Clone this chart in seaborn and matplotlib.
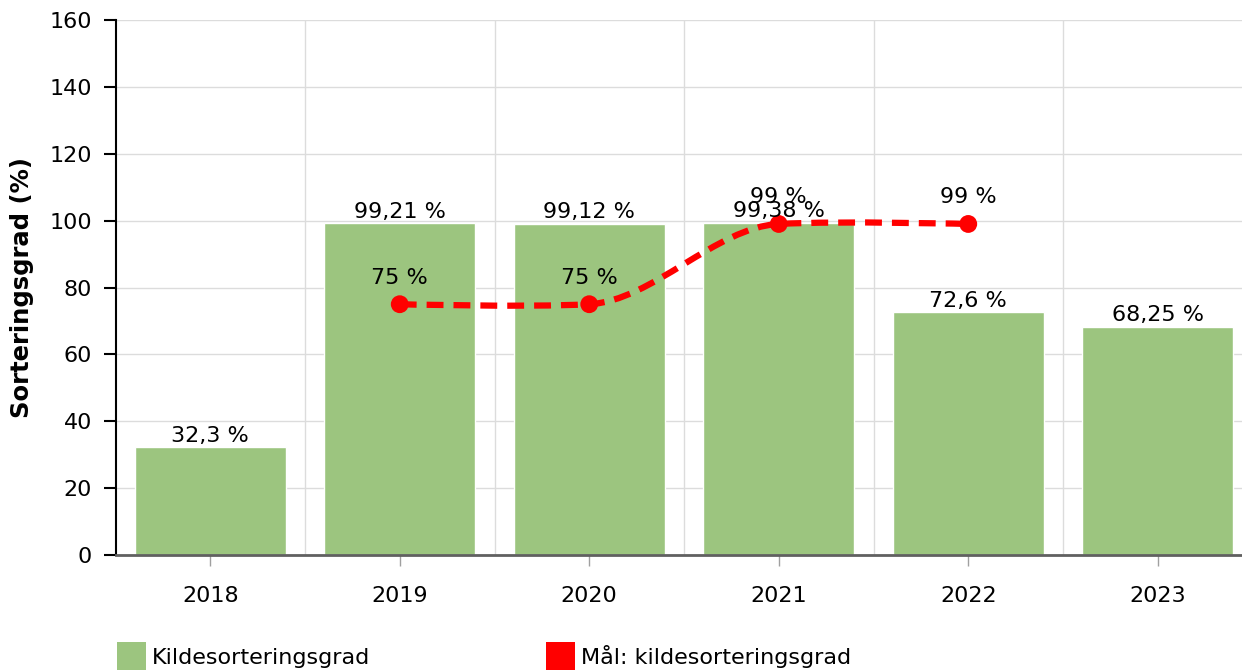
import matplotlib
matplotlib.use("Agg")
import matplotlib.pyplot as plt
from matplotlib.path import Path
from matplotlib.patches import PathPatch, Patch
import seaborn as sns
import pandas as pd

# ---- data ----
years = ["2018", "2019", "2020", "2021", "2022", "2023"]
sort_rate = [32.3, 99.21, 99.12, 99.38, 72.6, 68.25]
sort_labels = ["32,3 %", "99,21 %", "99,12 %", "99,38 %", "72,6 %", "68,25 %"]
target_years = ["2019", "2020", "2021", "2022"]
target_rate = [75, 75, 99, 99]
target_labels = ["75 %", "75 %", "99 %", "99 %"]
y_ticks = [0, 20, 40, 60, 80, 100, 120, 140, 160]
bar_name = "Kildesorteringsgrad"
line_name = "Mål: kildesorteringsgrad"
y_title = "Sorteringsgrad (%)"

BAR_COLOR = "#9CC57F"
LINE_COLOR = "#FF0000"

sns.set_theme(style="white")
plt.rcParams["font.family"] = ["DejaVu Sans"]
FS = 16

fig = plt.figure(figsize=(12.42, 6.70), dpi=100)
# plot area continues slightly past the right edge, as in the reference
ax = fig.add_axes([115.5 / 1242, 1 - 555 / 670, 1137 / 1242, 535 / 670])

df = pd.DataFrame({"year": years, "rate": sort_rate})
sns.barplot(data=df, x="year", y="rate", color=BAR_COLOR, saturation=1,
            width=0.797, ax=ax, zorder=2)
ax.bar_label(ax.containers[0], labels=sort_labels, padding=1,
             fontsize=FS, color="black", zorder=5)

# smooth target line (cubic Bezier through the points)
xs = [years.index(y) for y in target_years]
ys = target_rate
n = len(xs)
slopes = []
for i in range(n):
    if i == 0 or i == n - 1:
        slopes.append(None)
    else:
        slopes.append(0.25 * (ys[i + 1] - ys[i - 1]) / (xs[i + 1] - xs[i - 1]))
verts = [(xs[0], ys[0])]
codes = [Path.MOVETO]
for i in range(n - 1):
    dx = xs[i + 1] - xs[i]
    if slopes[i] is None:
        c1 = (xs[i], ys[i])
    else:
        c1 = (xs[i] + dx / 3, ys[i] + slopes[i] * dx / 3)
    if slopes[i + 1] is None:
        c2 = (xs[i + 1], ys[i + 1])
    else:
        c2 = (xs[i + 1] - dx / 3, ys[i + 1] - slopes[i + 1] * dx / 3)
    verts += [c1, c2, (xs[i + 1], ys[i + 1])]
    codes += [Path.CURVE4] * 3
patch = PathPatch(Path(verts, codes), fill=False, edgecolor=LINE_COLOR,
                  linewidth=4.5, linestyle=(0, (2.7, 1.6)), zorder=3,
                  capstyle="butt")
ax.add_patch(patch)
sns.scatterplot(x=xs, y=ys, color=LINE_COLOR, s=165, edgecolor="none",
                zorder=4, ax=ax)
for x, y, lab in zip(xs, ys, target_labels):
    ax.annotate(lab, (x, y), xytext=(0, 12), textcoords="offset points",
                ha="center", va="bottom", fontsize=FS, color="black", zorder=5)

# axes styling
ax.set_xlim(-0.5, len(years) - 0.5)
ax.set_ylim(0, 160)
ax.set_yticks(y_ticks)
ax.set_yticklabels([str(t) for t in y_ticks], fontsize=FS)
ax.set_xticks(range(len(years)))
ax.set_xticklabels(years, fontsize=FS)
ax.set_xticks([i + 0.5 for i in range(len(years) - 1)], minor=True)
ax.set_xlabel("")
ax.set_ylabel(y_title, fontsize=17.5, fontweight="bold", labelpad=11,
              color="black")
ax.grid(True, axis="y", color="#DCDCDC", linewidth=1, zorder=0)
ax.grid(True, axis="x", which="minor", color="#DCDCDC", linewidth=1, zorder=0)
ax.grid(False, axis="x", which="major")
ax.set_axisbelow(True)
for s in ["top", "right"]:
    ax.spines[s].set_visible(False)
ax.spines["left"].set_color("black")
ax.spines["left"].set_linewidth(1.5)
ax.spines["bottom"].set_color("#606060")
ax.spines["bottom"].set_linewidth(2)
ax.tick_params(axis="y", which="major", left=True, length=9, width=1.5,
               color="black", pad=8, labelcolor="black")
ax.tick_params(axis="x", which="major", bottom=True, length=8, width=1,
               color="#A0A0A0", pad=14, labelcolor="black")
ax.tick_params(axis="x", which="minor", bottom=False, length=0)

handles = [Patch(facecolor=BAR_COLOR, edgecolor="none", label=bar_name),
           Patch(facecolor=LINE_COLOR, edgecolor="none", label=line_name)]
fig.legend(handles=handles, loc="upper left",
           bbox_to_anchor=(117 / 1242, 1 - 642 / 670), ncol=2, frameon=False,
           fontsize=FS, handlelength=1.3, handleheight=1.7,
           handletextpad=0.27, columnspacing=7.9, borderpad=0,
           borderaxespad=0, labelcolor="black")

fig.savefig("out.png", dpi=100)
